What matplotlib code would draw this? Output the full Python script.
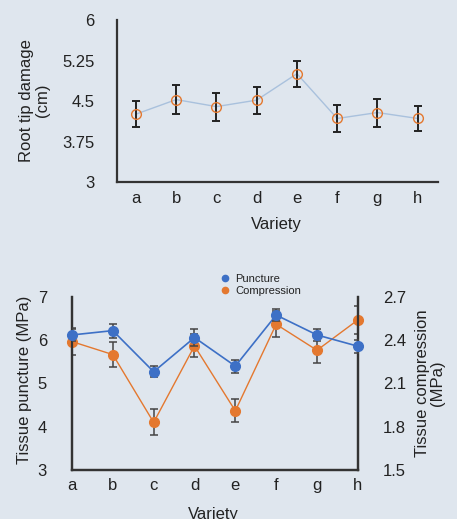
import matplotlib.pyplot as plt
import numpy as np

plt.rcParams["font.family"] = ["Liberation Sans", "DejaVu Sans"]

varieties = ["a", "b", "c", "d", "e", "f", "g", "h"]

# root tip damage (cm)
damage = [4.26, 4.53, 4.40, 4.52, 5.01, 4.18, 4.29, 4.18]
damage_err = [0.24, 0.27, 0.26, 0.25, 0.24, 0.25, 0.26, 0.24]

# tissue puncture (MPa), left axis
puncture = [6.12, 6.22, 5.27, 6.06, 5.40, 6.58, 6.12, 5.86]
puncture_err = [0.15, 0.16, 0.13, 0.19, 0.15, 0.14, 0.14, 0.15]

# tissue compression (MPa), right axis
compression = [2.39, 2.30, 1.83, 2.36, 1.91, 2.51, 2.33, 2.54]
compression_err = [0.09, 0.085, 0.09, 0.08, 0.08, 0.09, 0.09, 0.10]

bg = "#dfe6ee"
txt = "#222222"
spine = "#333333"
blue = "#3d70c6"
orange = "#e4782f"
fs = 12

fig = plt.figure(figsize=(4.57, 5.19), dpi=100)
fig.patch.set_facecolor(bg)

x = np.arange(len(varieties))

# top chart
ax1 = fig.add_axes([0.256, 0.649, 0.702, 0.312])
ax1.set_facecolor("none")
ax1.plot(x, damage, color="#a9c1dd", lw=1.0, zorder=2)
ax1.errorbar(x, damage, yerr=damage_err, fmt="none", ecolor="#222222",
             elinewidth=1.4, capsize=3, capthick=1.4, zorder=3)
ax1.plot(x, damage, "o", ms=7, mfc="none", mec=orange, mew=1.0, zorder=4)
ax1.set_xlim(-0.47, 7.5)
ax1.set_ylim(3, 6)
ax1.set_yticks([3, 3.75, 4.5, 5.25, 6])
ax1.set_yticklabels(["3", "3.75", "4.5", "5.25", "6"])
ax1.set_xticks(x)
ax1.set_xticklabels(varieties)
ax1.tick_params(axis="y", length=0, pad=16, labelsize=fs, colors=txt)
ax1.tick_params(axis="x", length=0, pad=6, labelsize=fs, colors=txt)
for s in ["top", "right"]:
    ax1.spines[s].set_visible(False)
for s in ["left", "bottom"]:
    ax1.spines[s].set_color(spine)
    ax1.spines[s].set_linewidth(1.6)
ax1.set_ylabel("Root tip damage\n(cm)", fontsize=fs, color=txt, linespacing=1.05)
ax1.yaxis.set_label_coords(-0.209, 0.506)
ax1.set_xlabel("Variety", fontsize=fs, color=txt)
ax1.xaxis.set_label_coords(0.498, -0.216)

# bottom chart
ax2 = fig.add_axes([0.1575, 0.0944, 0.6255, 0.3336])
ax2.set_facecolor("none")
ax3 = ax2.twinx()

ax3.plot(x, compression, color=orange, lw=1.0, zorder=2)
ax3.errorbar(x, compression, yerr=compression_err, fmt="none", ecolor="#444444",
             elinewidth=1.1, capsize=3, capthick=1.1, zorder=3)
ax3.plot(x, compression, "o", ms=7, color=orange, zorder=4, clip_on=False)

ax2.set_zorder(ax3.get_zorder() + 1)
ax2.plot(x, puncture, color=blue, lw=1.2, zorder=2)
ax2.errorbar(x, puncture, yerr=puncture_err, fmt="none", ecolor="#444444",
             elinewidth=1.1, capsize=3, capthick=1.1, zorder=3)
ax2.plot(x, puncture, "o", ms=7, color=blue, zorder=4, clip_on=False)

ax2.set_xlim(0, 7)
ax2.set_ylim(3, 7)
ax3.set_ylim(1.5, 2.7)
ax2.set_yticks([3, 4, 5, 6, 7])
ax3.set_yticks([1.5, 1.8, 2.1, 2.4, 2.7])
ax2.set_xticks(x)
ax2.set_xticklabels(varieties)
ax2.tick_params(axis="y", length=0, pad=18, labelsize=fs, colors=txt)
ax3.tick_params(axis="y", length=0, pad=18, labelsize=fs, colors=txt)
ax2.tick_params(axis="x", length=0, pad=6, labelsize=fs, colors=txt)
for a in (ax2, ax3):
    a.spines["top"].set_visible(False)
    for s in ["left", "right", "bottom"]:
        a.spines[s].set_color(spine)
        a.spines[s].set_linewidth(1.6)
ax2.set_ylabel("Tissue puncture (MPa)", fontsize=fs, color=txt)
ax2.yaxis.set_label_coords(-0.14, 0.52)
ax3.set_ylabel("Tissue compression\n(MPa)", fontsize=fs, color=txt, linespacing=1.05)
ax3.yaxis.set_label_coords(1.199, 0.50)
ax2.set_xlabel("Variety", fontsize=fs, color=txt)
ax2.xaxis.set_label_coords(0.493, -0.213)

h1 = plt.Line2D([], [], ls="none", marker="o", ms=4.5, color=blue)
h2 = plt.Line2D([], [], ls="none", marker="o", ms=4.5, color=orange)
fig.legend([h1, h2], ["Puncture", "Compression"], loc="upper left",
           bbox_to_anchor=(216 / 457, 1 - 268 / 519), frameon=False,
           fontsize=8, handlelength=0.6, handletextpad=0.6,
           labelspacing=0.25, borderpad=0, labelcolor=txt)

fig.savefig("out.png", dpi=100, facecolor=bg)
